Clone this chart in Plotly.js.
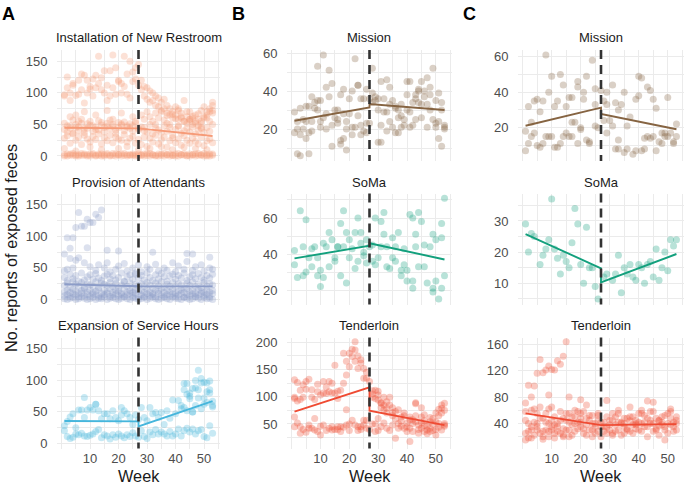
<!DOCTYPE html>
<html>
<head>
<meta charset="utf-8">
<script src="https://cdn.plot.ly/plotly-3.0.1.min.js"></script>
<style>html,body{margin:0;padding:0;background:#fff;}#chart{width:685px;height:485px;}</style>
</head>
<body>
<div id="chart"></div>
<script>
// ---------------- DATA ----------------
const weeks = Array.from({length: 53}, (_, i) => i + 1);
const interventionWeek = 27;
const fitWeeks = [1, 27, 27, 53];
const xTickVals = [0,5,10,15,20,25,30,35,40,45,50,55];
const xTickText = ['','','10','','20','','30','','40','','50',''];

// Panel A1: Installation of New Restroom (weekly series, weeks 1..53)
const restroomZeroA = [2,0,3,1,0,2,4,1,0,3,2,0,1,3,0,2,1,4,0,2,3,1,0,2,1,0,3, 2,0,1,4,2,0,3,1,0,2,3,1,0,4,2,1,0,3,2,0,1,2,4,0,3,1];
const restroomZeroB = [0,3,1,4,2,0,1,3,2,0,4,1,3,0,2,4,0,1,3,2,0,4,2,1,3,2,0, 1,3,4,0,2,1,0,3,4,2,0,1,3,0,2,4,1,0,2,3,4,1,0,2,0,3];
const restroomLow   = [28,32,20,35,25,30,18,33,27,22,31,26,35,19,29,24,33,21,30,27,25,34,22,28,31,20,26, 18,30,15,28,22,33,19,26,30,14,24,29,21,27,17,32,25,20,28,23,19,30,16,24,27,21];
const restroomMid   = [42,38,48,36,45,40,52,37,44,49,39,46,41,53,38,47,43,50,36,45,51,40,48,44,39,55,42, 46,40,38,50,35,44,41,37,48,39,45,33,42,47,36,40,44,38,46,35,41,43,37,45,39,50];
const restroomUpper = [52,48,44,57,50,46,58,43,51,55,48,42,56,49,45,52,57,47,41,53,49,54,46,51,48,52,44, 65,58,70,62,55,68,60,72,57,64,50,66,59,75,62,55,70,58,63,52,67,72,78,60,55,68];
const restroomHighA = [95,125,100,112,96,120,105,128,100,110,122,108,158,124,100,88,135,160,140,120,115,158,130,150,133,122,145, 120,110,108,103,100,95,92,85,90,80,75,70,78,72,68,88,62,70,60,65,58,55,62,70,75,80];
const restroomHighB = [97,108,88,115,65,98,130,84,120,106,95,128,115,105,135,112,95,108,98,118,100,110,98,92,118,140,112, 105,95,90,85,88,80,78,70,75,68,65,60,65,58,60,55,52,58,50,55,48,52,60,65,70,72];
const restroomSparse = [12,null,62,null,8,55,null,70,null,14,null,65,null,10,null,72,null,58,null,12,68,null,15,null,62,null,10, null,45,null,12,null,50,null,15,null,52,null,10,null,48,null,14,null,55,null,12,null,45,null,10,null,85];
const restroomFit = [44.7, 43.7, 43.7, 31.6];

// Panel A2: Provision of Attendants
const attendZeroA = [1,0,2,3,0,1,4,2,0,1,3,0,2,1,4,0,2,3,1,0,2,4,1,0,3,2,0, 1,3,0,2,4,1,0,2,3,1,0,4,2,1,0,3,2,0,1,4,2,0,3,1,2,0];
const attendZeroB = [6,8,5,9,7,4,10,6,8,5,9,7,6,4,8,10,5,7,9,6,8,5,7,10,6,9,4, 7,5,9,6,8,4,10,7,5,8,6,9,5,7,10,4,8,6,9,5,7,10,6,8,5,9];
const attendZeroC = [12,15,11,16,13,10,14,17,12,15,11,13,16,10,14,12,17,11,15,13,10,16,12,14,11,15,13, 14,11,16,12,10,15,13,17,11,14,12,16,10,13,15,11,17,12,14,10,16,13,11,15,12,14];
const attendLow   = [22,26,19,28,24,20,27,18,25,23,21,28,19,26,24,22,27,20,25,18,23,28,21,26,19,24,22, 25,20,27,23,18,26,22,28,19,24,21,27,20,25,23,18,26,22,28,20,24,19,27,21,25,23];
const attendMid   = [35,30,40,33,38,29,42,31,36,39,32,41,34,30,37,40,33,38,31,35,42,29,36,39,32,40,34, 38,31,42,35,30,39,33,41,36,29,37,40,32,38,34,42,30,36,39,33,41,35,31,38,34,40];
const attendUpper = [45,48,65,50,62,66,null,58,82,52,null,46,55,null,50,58,44,null,48,53,null,57,45,null,50,42,55, 44,null,52,48,null,56,45,null,50,46,null,58,44,53,null,48,60,null,46,52,null,55,45,null,50,48];
const attendHigh  = [72,98,81,98,114,138,116,116,127,122,122,135,130,142,null,78,null,null,null,77,null,null,null,null,null,null,null, null,null,null,null,75,null,null,null,null,null,null,null,null,null,null,null,73,null,72,null,null,null,null,null,67,null];
const attendFit = [24.0, 21.0, 21.0, 20.7];

// Panel A3: Expansion of Service Hours
const serviceLow  = [20,11,8,10,15,14,16,12,11,13,15,19,22,9,14,12,7,14,10,15,12,9,14,11,17,12,10, 20,11,8,18,14,22,15,18,15,12,19,12,15,23,12,20,24,18,23,15,20,22,11,9,28,16];
const serviceMid  = [28,35,42,47,25,53,53,41,53,57,53,62,52,39,47,47,39,52,41,36,57,52,47,41,30,45,38, 57,41,36,57,47,49,41,49,30,52,40,69,47,68,55,57,52,71,50,60,72,55,62,65,80,58];
const serviceHighA = [null,null,null,null,null,null,null,73,null,null,null,62,null,null,null,null,null,null,null,null,45,null,null,null,null,null,null, null,null,null,null,null,null,null,null,null,null,null,null,null,null,null,95,95,80,87,88,116,103,97,82,99,67];
const serviceHighB = [null,null,null,null,null,null,null,null,null,null,null,null,null,null,null,null,null,null,null,null,null,null,null,null,null,null,null, null,null,null,null,null,null,null,null,null,null,null,null,null,null,60,85,78,75,50,100,85,96,72,96,85,60];
const serviceFit = [35.5, 35.0, 27.0, 67.0];

// Panel B1: Mission
const missionB1 = [29,7,31,25,32,18,37,34,53,21,59,28,51,22,30,25,12,41,24,36,40,57,43,22,36,23,36, 34,37,30,45,29,46,33,21,18,30,27,25,38,45,22,38,40,45,40,47,38,52,35,24,30,21];
const missionB2 = [18,24,6,20,15,32,24,31,30,35,26,42,37,11,26,30,38,15,20,28,17,21,43,36,19,41,23, 52,35,36,13,36,29,42,35,31,26,33,22,45,29,34,36,41,26,37,33,42,25,21,39,34,22];
const missionB3 = [null,20,17,null,24,7,19,null,35,24,null,20,null,44,null,23,14,28,9,null,21,null,27,17,null,18,null, 39,null,13,22,null,19,24,null,32,18,21,null,30,21,null,25,34,33,null,21,30,null,23,15,11,20];
const missionBFit = [24.4, 31.4, 33.2, 30.0];

// Panel B2: SoMa
const somaBWeek = [1,1,2,3,4,4,5,5,6,7,7,8,9,9,10,10,11,11,12,13,13,14,15,15,16,16,17,17,18,18,19,19,20,20,21,22,22,23,23,24,24,25,25,26,26,27,28,28,29,29,30,31,31,32,32,33,33,34,35,35,36,36,37,38,38,39,39,40,40,41,42,42,42,43,43,44,44,45,46,46,47,48,49,49,49,50,50,51,52,52,52,53,53];
const somaBReports = [42,34,27,64,44,28,59,30,38,33,43,44,28,38,22,31,46,27,44,52,33,48,36,38,44,44,57,28,64,44,24,52,38,48,43,52,32,60,36,52,46,41,39,35,48,44,36,45,34,60,38,58,44,63,51,33,44,32,38,49,36,44,52,31,28,43,34,31,25,62,25,21,60,51,44,63,33,58,33,45,24,44,19,21,51,25,48,15,49,21,57,71,28];
const somaBFit = [37.6, 44.6, 46.0, 37.0];

// Panel B3: Tenderloin
const tenderBWeek = [1,1,1,2,1,1,2,3,3,3,4,4,5,6,6,6,7,8,8,8,9,9,9,10,10,11,11,11,12,13,13,13,14,14,14,15,15,15,16,16,17,18,18,18,19,19,19,19,20,20,21,21,21,22,22,22,22,23,23,24,24,24,25,25,25,26,26,27,27,
  28,28,29,29,30,30,30,31,31,32,32,32,33,33,33,34,34,35,35,35,36,36,36,37,37,38,38,39,39,39,40,40,41,41,41,42,42,43,43,43,43,44,44,45,45,45,46,46,46,47,47,48,48,48,49,50,50,50,51,51,51,52,52,52,53,53,53,
  5,7,12,17,20,26,3,10,16,23,25,2,4,5,7,12,14,16,17,20,23,24,26,
  29,31,34,37,40,44,47,49,51,53,28,30,42,46,48,50,28,29,30,31,32,33,35,38,41,45,49,52,53];
const tenderBReports = [99,97,131,126,63,45,52,112,95,33,99,40,114,42,132,48,99,39,95,60,109,36,123,30,103,107,128,48,106,42,128,109,45,107,39,40,107,158,45,97,45,180,125,44,76,165,140,48,180,38,187,174,57,165,48,186,201,45,152,45,162,40,134,152,57,134,57,40,128,
  111,99,36,112,103,94,38,89,88,99,52,85,91,79,42,99,85,65,48,71,59,73,24,76,51,63,46,65,42,70,36,52,18,63,42,51,36,89,87,65,54,33,48,63,42,52,67,36,56,46,39,62,42,54,50,30,70,54,77,65,51,70,79,39,48,88,51,
  35,42,38,36,50,42,45,46,40,38,48,92,122,128,113,118,125,110,112,155,175,168,145,
  50,45,38,42,45,40,32,38,44,46,50,60,58,47,36,40,105,97,110,80,76,70,80,55,58,80,60,85,75];
const tenderBFit = [72.6, 117.5, 74.4, 48.0];

// Panel C1: Mission
const missionCWeek = [1,1,2,2,3,3,4,4,5,5,6,6,7,7,8,8,9,9,10,10,11,11,12,12,13,13,14,14,15,15,16,16,17,17,17,18,19,19,19,20,20,21,21,22,22,23,23,24,25,25,25,26,27,28,28,29,29,29,30,31,31,32,32,33,33,33,34,35,35,36,36,37,38,39,39,40,40,41,41,42,42,43,43,44,44,45,45,46,46,47,48,48,49,49,50,50,51,52,52,53,53];
const missionCReports = [7,18,32,11,23,15,17,35,36,10,29,9,11,35,15,61,15,40,15,49,32,9,35,9,50,11,15,44,32,17,15,37,15,23,37,23,11,43,46,20,19,36,40,13,49,12,11,58,42,21,33,20,41,24,35,40,17,33,24,21,44,8,34,13,8,30,33,6,40,21,8,26,5,36,7,38,49,7,48,14,8,43,15,41,14,15,36,7,31,12,17,11,15,17,37,15,17,11,12,15,22];
const missionCFit = [21.1, 31.3, 27.7, 19.1];

// Panel C2: SoMa
const somaCWeek = [1,2,3,4,6,7,8,9,10,11,12,13,14,15,16,17,18,19,20,21,22,23,24,25,26,28,29,31,32,33,34,35,36,37,38,39,40,41,42,43,44,45,46,47,48,49,50,51,52,53];
const somaCReports = [29,20,26,25,16,19,21,24,37,21,18,13,19,17,15,23,34,29,16,10,28,15,15,9,5,12,13,11,13,19,7,15,13,16,12,11,16,15,10,16,17,12,21,11,15,20,14,24,22,24];
const somaCFit = [25.8, 14.8, 10.3, 19.4];

// Panel C3: Tenderloin
const tenderCUpperWeek = [1,2,3,4,5,6,7,8,9,10,11,12,13,14,15,16,9,20,10];
const tenderCUpper = [71,98,80,97,116,137,117,121,127,122,121,135,130,142,164,80,83,76,65];
const tenderC1 = [45,28,60,42,55,25,48,30,62,35,50,40,58,22,45,55,38,60,42,35,58,48,30,52,40,45,35, 42,50,30,45,38,55,40,48,32,44,50,38,42,60,35,48,40,58,32,44,38,52,40,48,35,45];
const tenderC2 = [25,40,18,62,30,48,20,55,28,45,18,35,25,48,30,20,50,28,32,55,25,38,45,20,35,28,42, 28,35,45,25,50,30,42,35,48,28,38,45,30,40,52,35,45,28,48,36,42,30,55,38,42,30];
const tenderC3 = [58,18,35,22,40,65,28,42,20,30,38,28,45,32,55,30,22,40,58,48,32,22,52,40,25,55,20, 35,25,38,55,28,42,22,40,30,50,25,40,55,28,42,20,58,40,30,22,50,35,25,62,28,50];
const tenderC4 = [15,null,30,null,35,null,16,null,40,null,25,null,null,20,null,42,null,50,null,42,null,68,null,30,null,52,null, null,75,null,22,null,60,null,25,null,65,null,32,null,55,null,74,null,72,null,45,null,15,null,58,null,40];
const tenderCFit = [55.2, 37.4, 37.4, 39.0];

// Titles
const facetTitles = ['Installation of New Restroom','Provision of Attendants','Expansion of Service Hours','Mission','SoMa','Tenderloin','Mission','SoMa','Tenderloin'];
const panelLetters = ['A','B','C'];
const yTitle = 'No. reports of exposed feces';
const xTitle = 'Week';

// ---------------- STYLE ----------------
const colRestroom = [246,155,120];
const colAttend = [140,156,200];
const colService = [70,182,220];
const colMission = [134,100,66];
const colSoma = [19,160,125];
const colTender = [239,75,51];
const rgba = (c,a) => `rgba(${c[0]},${c[1]},${c[2]},${a})`;
const FONT = "'Liberation Sans', Arial, Helvetica, sans-serif";
const ALPHA = 0.3, MSIZE = 7;

const traces = [];
function ax(i){ return i === 1 ? '' : String(i); }
function addPoints(i, xs, ys, col){
  traces.push({type:'scatter', mode:'markers', x:xs, y:ys, xaxis:'x'+ax(i), yaxis:'y'+ax(i),
    marker:{size:MSIZE, color:rgba(col,ALPHA), line:{width:0}}, hoverinfo:'skip', showlegend:false});
}
function addFit(i, ys, col){
  traces.push({type:'scatter', mode:'lines', x:fitWeeks, y:ys, xaxis:'x'+ax(i), yaxis:'y'+ax(i),
    line:{color:rgba(col,1), width:1.9}, hoverinfo:'skip', showlegend:false});
}

[restroomZeroA,restroomZeroB,restroomLow,restroomMid,restroomUpper,restroomHighA,restroomHighB,restroomSparse].forEach(s=>addPoints(1,weeks,s,colRestroom));
addFit(1, restroomFit, colRestroom);
[attendZeroA,attendZeroB,attendZeroC,attendLow,attendMid,attendUpper,attendHigh].forEach(s=>addPoints(2,weeks,s,colAttend));
addFit(2, attendFit, colAttend);
[serviceLow,serviceMid,serviceHighA,serviceHighB].forEach(s=>addPoints(3,weeks,s,colService));
addFit(3, serviceFit, colService);
[missionB1,missionB2,missionB3].forEach(s=>addPoints(4,weeks,s,colMission));
addFit(4, missionBFit, colMission);
addPoints(5, somaBWeek, somaBReports, colSoma);
addFit(5, somaBFit, colSoma);
addPoints(6, tenderBWeek, tenderBReports, colTender);
addFit(6, tenderBFit, colTender);
addPoints(7, missionCWeek, missionCReports, colMission);
addFit(7, missionCFit, colMission);
addPoints(8, somaCWeek, somaCReports, colSoma);
addFit(8, somaCFit, colSoma);
addPoints(9, tenderCUpperWeek, tenderCUpper, colTender);
[tenderC1,tenderC2,tenderC3,tenderC4].forEach(s=>addPoints(9,weeks,s,colTender));
addFit(9, tenderCFit, colTender);

// ---------------- LAYOUT ----------------
const W = 685, H = 485;
const colPx = [[57,220],[287,452],[518,684]];
const rowPx = [[50,161],[193.5,304.5],[337.5,448.5]];
const panels = [
  {yr:[-8,168], yt:[0,25,50,75,100,125,150], yl:['0','','50','','100','','150']},
  {yr:[-8,168], yt:[0,25,50,75,100,125,150], yl:['0','','50','','100','','150']},
  {yr:[-8,168], yt:[0,25,50,75,100,125,150], yl:['0','','50','','100','','150']},
  {yr:[3.2,61.6], yt:[10,20,30,40,50,60], yl:['','20','','40','','60']},
  {yr:[12,73.6], yt:[20,30,40,50,60,70], yl:['20','','40','','60','']},
  {yr:[5,208.8], yt:[25,50,75,100,125,150,175,200], yl:['','50','','100','','150','','200']},
  {yr:[1.2,63.8], yt:[10,20,30,40,50,60], yl:['','20','','40','','60']},
  {yr:[3.2,38.8], yt:[5,10,15,20,25,30,35], yl:['','10','','20','','30','']},
  {yr:[2,170.4], yt:[20,40,60,80,100,120,140,160], yl:['','40','','80','','120','','160']}
];

const layout = {width:W, height:H, margin:{l:0,r:0,t:0,b:0}, paper_bgcolor:'#fff', plot_bgcolor:'#fff',
  showlegend:false, font:{family:FONT}, shapes:[], annotations:[]};

panels.forEach((p, k) => {
  const i = k + 1, col = Math.floor(k/3), row = k % 3;
  const xd = [colPx[col][0]/W, colPx[col][1]/W];
  const yd = [1 - rowPx[row][1]/H, 1 - rowPx[row][0]/H];
  layout['xaxis'+ax(i)] = {domain:xd, range:[-1.6,55.6], anchor:'y'+ax(i), tickmode:'array', tickvals:xTickVals, ticktext:xTickText,
    showticklabels: row === 2, ticks:'',
    tickfont:{size:13, color:'#4D4D4D', family:FONT}, showgrid:true, gridcolor:'#EBEBEB', gridwidth:1,
    zeroline:false, showline:false, fixedrange:true};
  layout['yaxis'+ax(i)] = {domain:yd, range:p.yr, anchor:'x'+ax(i), tickmode:'array', tickvals:p.yt, ticktext:p.yl,
    ticks:'outside', ticklen:6, tickcolor:'rgba(0,0,0,0)',
    tickfont:{size:13, color:'#4D4D4D', family:FONT}, showgrid:true, gridcolor:'#EBEBEB', gridwidth:1,
    zeroline:false, showline:false, fixedrange:true};
  layout.shapes.push({type:'line', xref:'x'+ax(i), yref:'y'+ax(i)+' domain', x0:interventionWeek, x1:interventionWeek, y0:1, y1:0,
    line:{color:'#333333', width:2.6, dash:'9px,6px'}, layer:'above'});
  const titleY = [38, 182, 325][row];
  layout.annotations.push({text:facetTitles[k], xref:'paper', yref:'paper', x:(xd[0]+xd[1])/2, y:1-titleY/H,
    xanchor:'center', yanchor:'middle', showarrow:false, font:{size:13, color:'#1A1A1A', family:FONT}});
});

const letterX = [8.5, 238.5, 469];
panelLetters.forEach((L, c) => layout.annotations.push({text:'<b>'+L+'</b>', xref:'paper', yref:'paper', x:letterX[c]/W, y:1-14/H,
  xanchor:'center', yanchor:'middle', showarrow:false, font:{size:18, color:'#000', family:FONT}}));
colPx.forEach(cp => layout.annotations.push({text:xTitle, xref:'paper', yref:'paper', x:(cp[0]+cp[1])/2/W, y:1-476/H,
  xanchor:'center', yanchor:'middle', showarrow:false, font:{size:16.3, color:'#1A1A1A', family:FONT}}));
layout.annotations.push({text:yTitle, xref:'paper', yref:'paper', x:11/W, y:1-248/H, textangle:-90,
  xanchor:'center', yanchor:'middle', showarrow:false, font:{size:16.3, color:'#1A1A1A', family:FONT}});

Plotly.newPlot('chart', traces, layout, {staticPlot:true, displayModeBar:false});
</script>
</body>
</html>
